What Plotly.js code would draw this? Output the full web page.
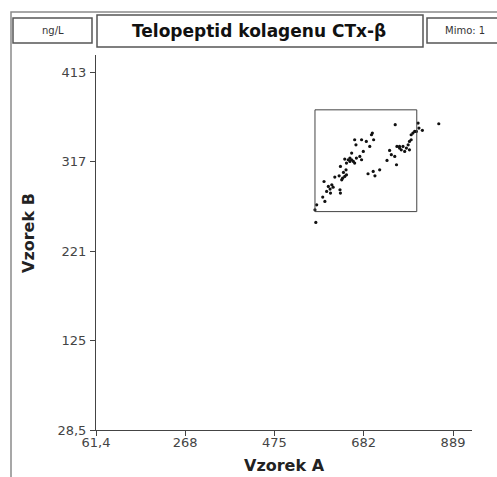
<!DOCTYPE html>
<html>
<head>
<meta charset="utf-8">
<script src="https://cdn.plot.ly/plotly-3.0.1.min.js"></script>
<style>html,body{margin:0;padding:0;background:#fff;}#chart{width:497px;height:477px;}</style>
</head>
<body>
<div id="chart"></div>
<script>
// Data (Vzorek A, Vzorek B)
const vzorekA = [569,573,571,592,587,590,600,596,604,608,611,605,615,625,627,628,631,633,638,642,641,635,628,638,642,646,650,654,658,661,650,654,665,673,677,661,664,677,681,688,696,700,702,705,692,704,708,719,736,742,746,754,758,759,755,765,769,773,777,781,785,788,792,788,792,796,800,808,810,804,818,856,765];
const vzorekB = [265.4,270.8,251.8,274.4,279.1,295.9,290.6,285.2,287.7,292.4,289.8,283.4,300.6,302.0,287.0,283.4,297.7,299.5,301.3,303.1,308.5,305.6,312.1,320.0,315.7,319.3,317.5,319.3,317.5,315.7,321.1,326.5,321.1,322.9,319.3,340.8,335.4,340.8,328.3,339.0,333.6,346.2,348.0,340.8,304.2,306.7,302.0,308.5,318.6,329.3,324.7,322.9,313.9,333.6,357.0,331.8,330.0,333.6,328.3,331.8,335.4,339.0,340.8,330.0,346.2,348.0,349.8,358.8,353.4,349.8,350.9,358.0,333.6];
const xTickVals = [61.4, 268, 475, 682, 889];
const xTickText = ["61,4", "268", "475", "682", "889"];
const yTickVals = [28.5, 125, 221, 317, 413];
const yTickText = ["28,5", "125", "221", "317", "413"];
const boxX = [569, 805];
const boxY = [263.5, 373];
const unitLabel = "ng/L";
const titleText = "Telopeptid kolagenu CTx-β";
const outsideLabel = "Mimo: 1";

// pixel -> paper helpers for decorations
const L = 96, R = 472, T = 55, B = 430;
const px = v => (v - L) / (R - L);
const py = v => (B - v) / (B - T);

const font = "DejaVu Sans, sans-serif";
const shapes = [
  {type:'rect', xref:'paper', yref:'paper', x0:px(11), x1:px(505), y0:py(12), y1:py(485), line:{color:'#8a8a8a', width:1.5}},
  {type:'rect', xref:'paper', yref:'paper', x0:px(13), x1:px(92), y0:py(18), y1:py(43), line:{color:'#555', width:1.5}},
  {type:'rect', xref:'paper', yref:'paper', x0:px(97), x1:px(423), y0:py(15), y1:py(47), line:{color:'#555', width:1.5}},
  {type:'rect', xref:'paper', yref:'paper', x0:px(427), x1:px(505), y0:py(18), y1:py(43), line:{color:'#555', width:1.5}},
  {type:'rect', xref:'x', yref:'y', x0:boxX[0], x1:boxX[1], y0:boxY[0], y1:boxY[1], line:{color:'#444', width:1}}
];
const ann = (x, y, text, size, color, extra) => Object.assign({
  xref:'paper', yref:'paper', x:px(x), y:py(y), xanchor:'center', yanchor:'middle',
  text:text, showarrow:false, font:{family:font, size:size, color:color}
}, extra || {});
const annotations = [
  ann(52.5, 30.5, unitLabel, 10, '#333'),
  ann(259, 31, '<b>'+titleText+'</b>', 17, '#111'),
  ann(443, 30.5, outsideLabel, 10, '#333', {xanchor:'left'}),
  ann(284, 465, '<b>Vzorek A</b>', 16, '#222'),
  ann(28, 233, '<b>Vzorek B</b>', 16, '#222', {textangle:-90})
];

const trace = {
  x: vzorekA, y: vzorekB, mode:'markers', type:'scatter',
  marker:{color:'#111', size:3.2}, hoverinfo:'none'
};

const axisCommon = {
  showgrid:false, zeroline:false, showline:true, linecolor:'#444', linewidth:1,
  ticks:'outside', ticklen:5, tickcolor:'#444', tickmode:'array',
  tickfont:{family:font, size:13, color:'#444'}, fixedrange:true
};

const layout = {
  width:497, height:477,
  margin:{l:L, r:497-R, t:T, b:477-B, pad:0},
  paper_bgcolor:'#fff', plot_bgcolor:'#fff',
  showlegend:false,
  xaxis:Object.assign({}, axisCommon, {range:[61.4, 933], tickvals:xTickVals, ticktext:xTickText, ticklabelstandoff:-5}),
  yaxis:Object.assign({}, axisCommon, {range:[28.5, 432], tickvals:yTickVals, ticktext:yTickText, ticklabelstandoff:1}),
  shapes: shapes,
  annotations: annotations
};

Plotly.newPlot('chart', [trace], layout, {displayModeBar:false, staticPlot:true});
</script>
</body>
</html>
